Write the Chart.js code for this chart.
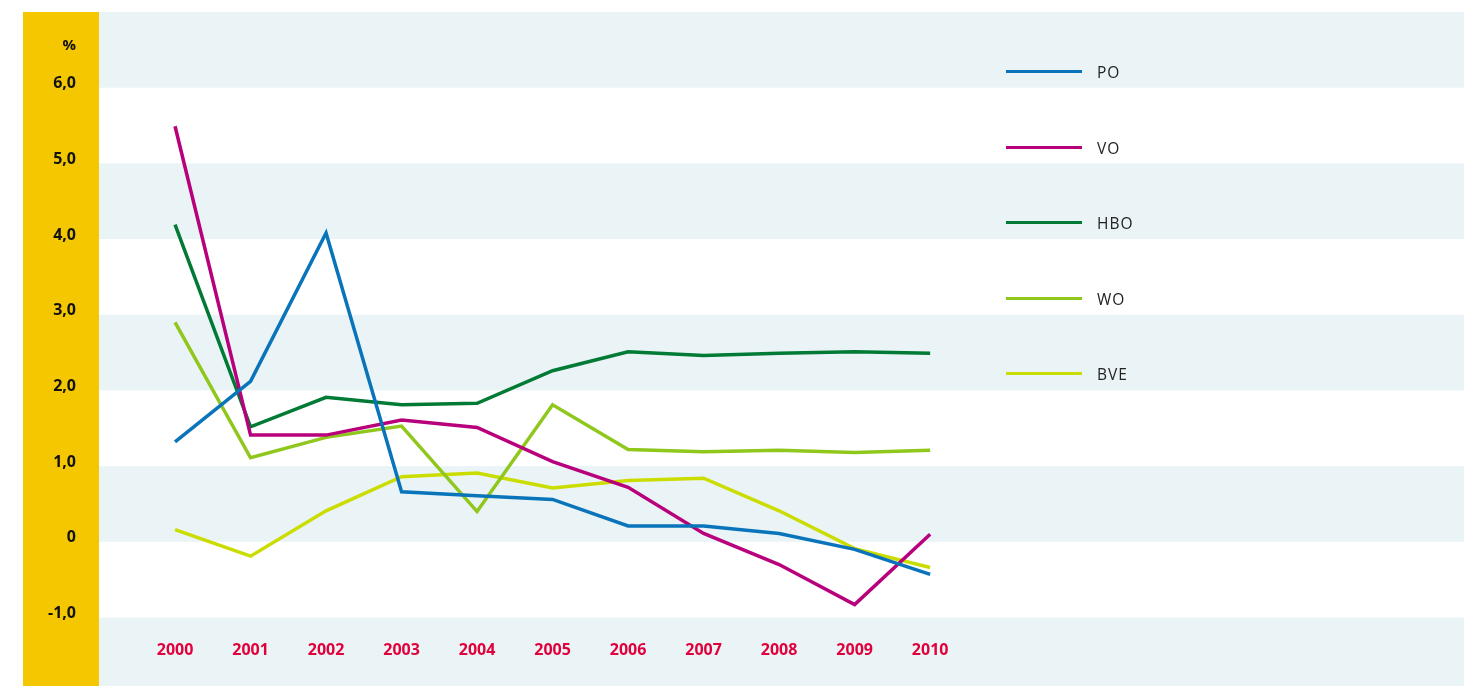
<!DOCTYPE html>
<html>
<head>
<meta charset="utf-8">
<script src="https://cdn.jsdelivr.net/npm/chart.js@4/dist/chart.umd.min.js"></script>
<style>
  body { margin: 0; background: #fff; width: 1464px; height: 686px; overflow: hidden; position: relative; font-family: "Open Sans", sans-serif; }
  #wrap { position: absolute; left: 23px; top: 12px; width: 1441px; height: 674px; }
  .unit { position: absolute; z-index: 2; left: 40px; width: 36px; top: 34px; text-align: right; font-weight: 700; font-size: 15px; color: #111; }
  .key { position: absolute; left: 1006px; height: 20px; }
  .key .swatch { position: absolute; left: 0; top: 8px; width: 76px; height: 3px; }
  .key .name { position: absolute; left: 91px; top: 0; font-size: 15.5px; letter-spacing: 1px; color: #222; line-height: 20px; white-space: nowrap; }
</style>
</head>
<body>
<div id="wrap"><canvas id="chart"></canvas></div>
<div class="unit">%</div>
<div id="legend"></div>
<script>
const years = [2000, 2001, 2002, 2003, 2004, 2005, 2006, 2007, 2008, 2009, 2010];
const yTicks = [-1, 0, 1, 2, 3, 4, 5, 6];

const po  = [1.32, 2.12, 4.08, 0.66, 0.61, 0.56, 0.21, 0.21, 0.11, -0.10, -0.43];
const vo  = [5.49, 1.41, 1.41, 1.61, 1.51, 1.06, 0.72, 0.11, -0.30, -0.83, 0.10];
const hbo = [4.19, 1.52, 1.91, 1.81, 1.83, 2.26, 2.51, 2.46, 2.49, 2.51, 2.49];
const wo  = [2.90, 1.11, 1.38, 1.53, 0.40, 1.81, 1.22, 1.19, 1.21, 1.18, 1.21];
const bve = [0.16, -0.19, 0.41, 0.86, 0.91, 0.71, 0.81, 0.84, 0.41, -0.09, -0.34];

const seriesNames = ['PO', 'VO', 'HBO', 'WO', 'BVE'];
const seriesData = [po, vo, hbo, wo, bve];
const seriesColors = ['#0a74bb', '#b8007c', '#007a34', '#8fc71c', '#cbdd00'];

const bandColor = '#eaf4f7';
const sideColor = '#f4c700';

// alternating horizontal bands plus the yellow strip behind the y labels
const backdrop = {
  id: 'backdrop',
  beforeDraw(chart) {
    const { ctx, chartArea, scales } = chart;
    const y = scales.y;
    ctx.save();
    ctx.fillStyle = sideColor;
    ctx.fillRect(0, 0, chartArea.left, chart.height);
    ctx.fillStyle = bandColor;
    for (let k = -2; k < 7; k++) {
      if (Math.abs(k) % 2 !== 0) continue;
      let top = Math.max(y.getPixelForValue(k + 1), chartArea.top);
      let bottom = Math.min(y.getPixelForValue(k), chartArea.bottom);
      if (bottom > top) ctx.fillRect(chartArea.left, top, chartArea.right - chartArea.left, bottom - top);
    }
    ctx.restore();
  }
};

const fmt = v => v === 0 ? '0' : v.toFixed(1).replace('.', ',');

new Chart(document.getElementById('chart'), {
  type: 'line',
  data: {
    datasets: seriesNames.map((name, i) => ({
      label: name,
      data: years.map((yr, j) => ({ x: yr, y: seriesData[i][j] })),
      borderColor: seriesColors[i],
      borderWidth: 3.5,
      pointRadius: 0,
      tension: 0,
      fill: false
    }))
  },
  options: {
    responsive: true,
    maintainAspectRatio: false,
    animation: false,
    layout: { padding: 0 },
    plugins: { legend: { display: false }, tooltip: { enabled: false } },
    scales: {
      x: {
        type: 'linear',
        position: { y: -1 },
        min: 1998.993,
        max: 2017.07,
        afterBuildTicks: s => { s.ticks = years.map(v => ({ value: v })); },
        afterFit: s => { s.paddingLeft = 0; s.paddingRight = 0; },
        grid: { display: false, drawTicks: false },
        border: { display: false },
        ticks: {
          padding: 23,
          color: '#e2003c',
          font: { family: 'Open Sans', size: 16, weight: 'bold' },
          callback: v => String(v),
          maxRotation: 0
        }
      },
      y: {
        position: 'left',
        min: -1.905,
        max: 7,
        afterBuildTicks: s => { s.ticks = yTicks.map(v => ({ value: v })); },
        afterFit: s => { s.width = 76; s.paddingTop = 0; s.paddingBottom = 0; },
        grid: { display: false, drawTicks: false },
        border: { display: false },
        ticks: {
          padding: 23,
          labelOffset: -4,
          color: '#111',
          font: { family: 'Open Sans', size: 16, weight: 'bold' },
          callback: v => fmt(v)
        }
      }
    }
  },
  plugins: [backdrop]
});

// legend entries on the right
const legend = document.getElementById('legend');
const legendTops = [62, 138, 213, 289, 364];
seriesNames.forEach((name, i) => {
  const row = document.createElement('div');
  row.className = 'key';
  row.style.top = legendTops[i] + 'px';
  row.innerHTML = '<div class="swatch" style="background:' + seriesColors[i] + '"></div><div class="name">' + name + '</div>';
  legend.appendChild(row);
});
</script>
</body>
</html>
